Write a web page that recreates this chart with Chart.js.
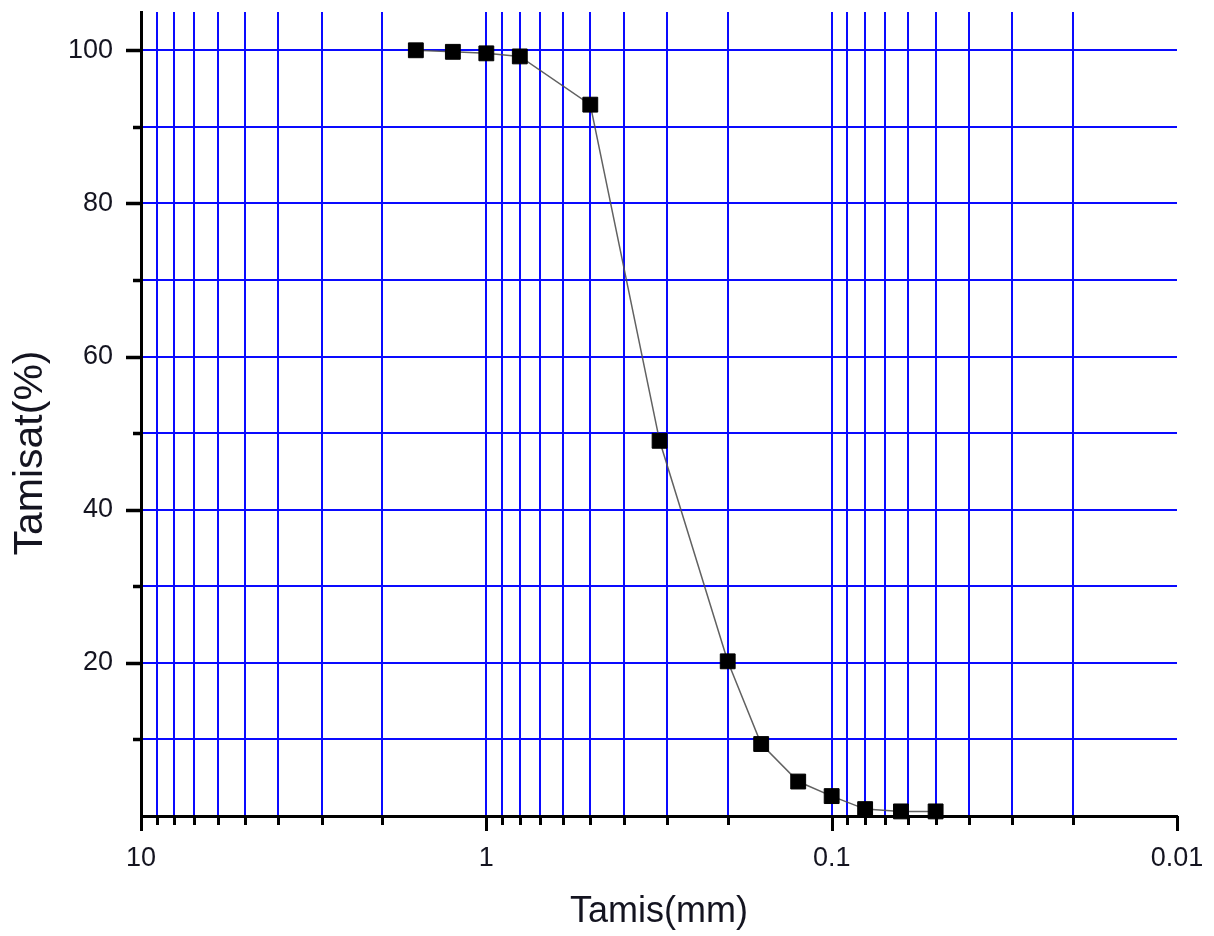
<!DOCTYPE html>
<html>
<head>
<meta charset="utf-8">
<title>Tamisat</title>
<script src="https://cdn.jsdelivr.net/npm/chart.js@4/dist/chart.umd.min.js"></script>
<style>
  html, body { margin: 0; padding: 0; background: #fff; }
  #granulo { display: block; }
</style>
</head>
<body>
<canvas id="granulo" width="1214" height="936"></canvas>
<script>
// sieve openings (mm) and percent passing
const sieveSizes = [1.6, 1.25, 1, 0.8, 0.5, 0.315, 0.2, 0.16, 0.125, 0.1, 0.08, 0.063, 0.05];
const passing = [100, 99.8, 99.6, 99.2, 92.9, 49.0, 20.2, 9.4, 4.5, 2.6, 0.9, 0.6, 0.6];

// log axis ticks, one per integer step in each decade
const xTickValues = [10, 9, 8, 7, 6, 5, 4, 3, 2,
  1, 0.9, 0.8, 0.7, 0.6, 0.5, 0.4, 0.3, 0.2,
  0.1, 0.09, 0.08, 0.07, 0.06, 0.05, 0.04, 0.03, 0.02, 0.01];
const xLabelled = [10, 1, 0.1, 0.01];
const yTickValues = [0, 10, 20, 30, 40, 50, 60, 70, 80, 90, 100];
const yLabelled = [20, 40, 60, 80, 100];

const FONT = '"Liberation Sans", Arial, sans-serif';
const GRID_BLUE = 'rgb(10, 10, 255)';
const TEXT = '#141420';

// keep the plot frame fixed: no extra room for overhanging labels
function noPadding(scale) {
  scale.paddingTop = 0;
  scale.paddingBottom = 0;
  scale.paddingLeft = 0;
  scale.paddingRight = 0;
}

// tick marks outside the frame: long on labelled values, short otherwise
const axisTicks = {
  id: 'axisTicks',
  afterDraw(chart) {
    const { ctx, chartArea, scales: { x, y } } = chart;
    ctx.save();
    ctx.strokeStyle = '#000';
    ctx.lineWidth = 3;
    x.ticks.forEach(t => {
      const px = Math.round(x.getPixelForValue(t.value)) + 0.5;
      const len = xLabelled.includes(t.value) ? 15 : 9;
      ctx.beginPath();
      ctx.moveTo(px, chartArea.bottom);
      ctx.lineTo(px, chartArea.bottom + len);
      ctx.stroke();
    });
    ctx.lineWidth = 3.5;
    y.ticks.forEach(t => {
      if (t.value === 0) return;
      const py = Math.round(y.getPixelForValue(t.value)) + 0.5;
      const len = yLabelled.includes(t.value) ? 15 : 8;
      ctx.beginPath();
      ctx.moveTo(chartArea.left, py);
      ctx.lineTo(chartArea.left - len, py);
      ctx.stroke();
    });

    // y axis title, rotated
    ctx.fillStyle = TEXT;
    ctx.font = '41px ' + FONT;
    ctx.textAlign = 'center';
    ctx.textBaseline = 'alphabetic';
    ctx.translate(42, 453);
    ctx.rotate(-Math.PI / 2);
    ctx.fillText('Tamisat(%)', 0, 0);
    ctx.restore();
  }
};

// setup
const data = {
  datasets: [{
    label: 'Tamisat',
    data: sieveSizes.map((d, i) => ({ x: d, y: passing[i] })),
    showLine: true,
    borderColor: 'rgba(80, 80, 80, 0.9)',
    borderWidth: 1.5,
    tension: 0,
    pointStyle: 'rect',
    pointRadius: 10.5,
    pointHoverRadius: 10.5,
    pointBackgroundColor: '#000',
    pointBorderColor: '#000',
    pointBorderWidth: 1,
    clip: false
  }]
};

// config
const config = {
  type: 'scatter',
  data,
  plugins: [axisTicks],
  options: {
    responsive: false,
    animation: false,
    devicePixelRatio: 1,
    layout: { padding: { left: 0, top: 12, right: 37, bottom: 0 } },
    plugins: {
      legend: { display: false },
      tooltip: { enabled: false }
    },
    scales: {
      x: {
        type: 'logarithmic',
        reverse: true,
        min: 0.01,
        max: 10,
        afterBuildTicks: scale => {
          scale.ticks = xTickValues.map(v => ({ value: v }));
        },
        afterFit: scale => {
          scale.height = 120;
          noPadding(scale);
        },
        grid: {
          drawTicks: false,
          lineWidth: 2,
          color: ctx => (ctx.tick && (ctx.tick.value === 10 || ctx.tick.value === 0.01)) ? 'rgba(0,0,0,0)' : GRID_BLUE
        },
        border: { color: '#000', width: 3 },
        ticks: {
          autoSkip: false,
          maxRotation: 0,
          padding: 26,
          color: TEXT,
          font: { family: FONT, size: 27 },
          callback: value => xLabelled.includes(value) ? String(value) : ''
        },
        title: {
          display: true,
          text: 'Tamis(mm)',
          color: TEXT,
          font: { family: FONT, size: 36 },
          padding: { top: 0, bottom: 2 }
        }
      },
      y: {
        min: 0,
        max: 105,
        afterBuildTicks: scale => {
          scale.ticks = yTickValues.map(v => ({ value: v }));
        },
        afterFit: scale => {
          scale.width = 141;
          noPadding(scale);
        },
        grid: {
          drawTicks: false,
          lineWidth: 2,
          color: ctx => (ctx.tick && ctx.tick.value === 0) ? 'rgba(0,0,0,0)' : GRID_BLUE
        },
        border: { color: '#000', width: 3 },
        ticks: {
          autoSkip: false,
          padding: 28,
          color: TEXT,
          font: { family: FONT, size: 27 },
          callback: value => yLabelled.includes(value) ? String(value) : ''
        }
      }
    }
  }
};

// render init block
const granuloChart = new Chart(
  document.getElementById('granulo'),
  config
);
</script>
</body>
</html>
